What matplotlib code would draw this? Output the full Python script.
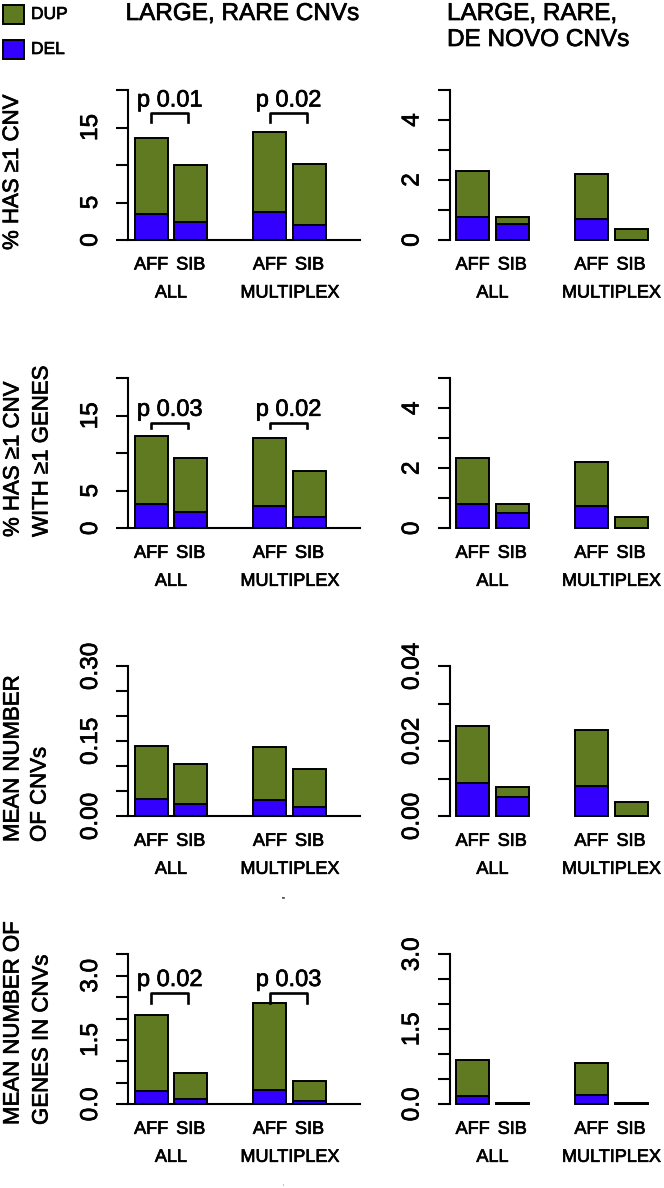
# -*- coding: utf-8 -*-
"""
Stacked bar panels of large, rare CNVs (left) and de novo CNVs (right)
for affected children and siblings, all families and multiplex families.
"""

import numpy as np
import matplotlib.pyplot as plt
import matplotlib.patheffects as pe
from matplotlib.patches import Rectangle

plt.rcParams['font.family'] = ['Liberation Sans', 'DejaVu Sans']

# Bars in order: AFF ALL, SIB ALL, AFF MULTIPLEX, SIB MULTIPLEX
bar_names = ['AFF', 'SIB', 'AFF', 'SIB']
group_names = ['ALL', 'MULTIPLEX']

# Row 1: % has >=1 CNV (totals = DEL + DUP)
rare_any_del = [3.42, 2.36, 3.69, 2.04]
rare_any_tot = [13.56, 10.0, 14.36, 10.13]
novo_any_del = [0.77, 0.52, 0.71, 0.0]
novo_any_tot = [2.31, 0.78, 2.21, 0.36]

# Row 2: % has >=1 CNV with >=1 genes
rare_gene_del = [3.2, 2.22, 2.98, 1.47]
rare_gene_tot = [12.31, 9.42, 12.0, 7.6]
novo_gene_del = [0.81, 0.52, 0.73, 0.0]
novo_gene_tot = [2.34, 0.80, 2.21, 0.37]

# Row 3: mean number of CNVs
rare_mean_del = [0.0355, 0.024, 0.0335, 0.018]
rare_mean_tot = [0.1406, 0.105, 0.1386, 0.0944]
novo_mean_del = [0.00875, 0.0052, 0.0082, 0.0]
novo_mean_tot = [0.024, 0.00786, 0.023, 0.00375]

# Row 4: mean number of genes in CNVs
rare_ngen_del = [0.32, 0.125, 0.33, 0.08]
rare_ngen_tot = [2.09, 0.74, 2.37, 0.55]
novo_ngen_del = [0.173, 0.01, 0.19, 0.0]
novo_ngen_tot = [0.88, 0.03, 0.83, 0.03]

# p values (ALL, MULTIPLEX) for the left panels that have them
p_row1 = ['p 0.01', 'p 0.02']
p_row2 = ['p 0.03', 'p 0.02']
p_row4 = ['p 0.02', 'p 0.03']

DUP_COL = '#607a22'
DEL_COL = '#3300ff'

W, H, DPI = 664, 1188, 100
centers = np.array([0.7, 1.9, 4.3, 5.5])
px_pt = 72.0 / DPI


def draw_panel(ax, del_vals, tot_vals, ymax, ystep, tick_labels,
               baseline=True, pvals=None, pbox=None):
    """
    Draws one stacked bar panel (DEL at the bottom, DUP on top)
    with an R style left axis and the AFF/SIB and group labels.
    """
    del_vals = np.array(del_vals)
    dup_vals = np.array(tot_vals) - del_vals

    ax.bar(centers, del_vals, width=1.0, color=DEL_COL, edgecolor='black',
           linewidth=1.4, clip_on=False, zorder=2)
    ax.bar(centers, dup_vals, bottom=del_vals, width=1.0, color=DUP_COL,
           edgecolor='black', linewidth=1.4, clip_on=False, zorder=2)

    if baseline:
        ax.plot([0, 7.03], [0, 0], color='black', lw=1.5, clip_on=False,
                zorder=3)

    # Axis styling
    ax.set_xlim(0, 6.4)
    ax.set_ylim(0, ymax)
    for s in ['top', 'right', 'bottom']:
        ax.spines[s].set_visible(False)
    ax.spines['left'].set_linewidth(1.5)
    ticks = np.arange(0, ymax + ystep / 2, ystep)
    ax.set_yticks(ticks)
    ax.set_yticklabels(tick_labels, rotation=90, va='center', fontsize=17.5)
    ax.tick_params(axis='y', length=12 * px_pt, width=1.5, pad=14 * px_pt)
    ax.set_xticks([])
    ax.patch.set_visible(False)

    # Bar labels and group labels under the panel
    for c, name in zip(centers, bar_names):
        ax.annotate(name, xy=(c, 0), xycoords=('data', 'axes fraction'),
                    xytext=(0, -25 * px_pt), textcoords='offset points',
                    ha='center', va='center', fontsize=13)
    for g, name in enumerate(group_names):
        gc = (centers[2 * g] + centers[2 * g + 1]) / 2
        ax.annotate(name, xy=(gc, 0), xycoords=('data', 'axes fraction'),
                    xytext=(0, -53 * px_pt), textcoords='offset points',
                    ha='center', va='center', fontsize=13)

    # p value brackets
    if pvals is not None:
        top, leg, base = pbox
        for g, ptxt in enumerate(pvals):
            x1 = centers[2 * g]
            x2 = centers[2 * g + 1] - 0.07
            ax.plot([x1, x1, x2, x2], [leg, top, top, leg], color='black',
                    lw=1.9, clip_on=False, zorder=3)
            ax.text((x1 + x2) / 2, base, ptxt, ha='center', va='baseline',
                    fontsize=17)


fig = plt.figure(figsize=(W / DPI, H / DPI), dpi=DPI)

zeros = [240, 528.3, 816.3, 1104.3]
left_x0, right_x0 = 128, 449.5
ax_w, ax_h = 6.4 * 33, 150


def add_ax(x0, zero):
    return fig.add_axes([x0 / W, 1 - zero / H, ax_w / W, ax_h / H])


lab_pct = ['0', '5', '', '15', '']
lab_small = ['0', '', '2', '', '4', '']

# Row 1
draw_panel(add_ax(left_x0, zeros[0]), rare_any_del, rare_any_tot, 20, 5,
           lab_pct, pvals=p_row1, pbox=(16.9, 15.8, 17.8))
draw_panel(add_ax(right_x0, zeros[0]), novo_any_del, novo_any_tot, 5, 1,
           lab_small, baseline=False)

# Row 2
draw_panel(add_ax(left_x0, zeros[1]), rare_gene_del, rare_gene_tot, 20, 5,
           lab_pct, pvals=p_row2, pbox=(14.0, 13.33, 15.0))
draw_panel(add_ax(right_x0, zeros[1]), novo_gene_del, novo_gene_tot, 5, 1,
           lab_small, baseline=False)

# Row 3
draw_panel(add_ax(left_x0, zeros[2]), rare_mean_del, rare_mean_tot, 0.30,
           0.05, ['0.00', '', '', '0.15', '', '', '0.30'])
draw_panel(add_ax(right_x0, zeros[2]), novo_mean_del, novo_mean_tot, 0.04,
           0.01, ['0.00', '', '0.02', '', '0.04'], baseline=False)

# Row 4
draw_panel(add_ax(left_x0, zeros[3]), rare_ngen_del, rare_ngen_tot, 3.5,
           0.5, ['0.0', '', '', '1.5', '', '', '3.0', ''],
           pvals=p_row4, pbox=(2.59, 2.37, 2.76))
draw_panel(add_ax(right_x0, zeros[3]), novo_ngen_del, novo_ngen_tot, 3.0,
           0.5, ['0.0', '', '', '1.5', '', '', '3.0'], baseline=False)

# Column titles
fig.text(242 / W, 1 - 14 / H, 'LARGE, RARE CNVs', ha='center', va='center',
         fontsize=17.5)
fig.text(447 / W, 1 - 14 / H, 'LARGE, RARE,', ha='left', va='center',
         fontsize=17.5)
fig.text(447 / W, 1 - 40 / H, 'DE NOVO CNVs', ha='left', va='center',
         fontsize=17.5)

# Row labels (rotated, each line placed by hand)
ylabels = [(12.5, 250, '% HAS \u22651 CNV'),
           (13, 537, '% HAS \u22651 CNV'), (42, 537, 'WITH \u22651 GENES'),
           (13, 842, 'MEAN NUMBER'), (40, 842, 'OF CNVs'),
           (13, 1125, 'MEAN NUMBER OF'), (42, 1125, 'GENES IN CNVs')]
for x, yb, txt in ylabels:
    fig.text(x / W, 1 - yb / H, txt, rotation=90, ha='center', va='bottom',
             fontsize=16)

# Legend drawn by hand
for (y0, col, name) in [(5, DUP_COL, 'DUP'), (40, DEL_COL, 'DEL')]:
    fig.add_artist(Rectangle((3 / W, 1 - (y0 + 19) / H), 21 / W, 19 / H,
                             facecolor=col, edgecolor='black', lw=1.4,
                             transform=fig.transFigure))
    fig.text(31 / W, 1 - (y0 + 9.5) / H, name, ha='left', va='center',
             fontsize=12.5)

# Small stray marks seen in the original
fig.text(283 / W, 1 - 898 / H, '-', ha='center', va='center', fontsize=5,
         color='#555555')
fig.text(283 / W, 1 - 1183 / H, '.', ha='center', va='center', fontsize=5,
         color='#555555')

# Slightly heavier strokes on all text, like the original rendering
for t in fig.findobj(match=plt.Text):
    if t.get_text().strip():
        t.set_path_effects([pe.withStroke(linewidth=0.5,
                                          foreground=t.get_color())])

plt.savefig('out.png', dpi=DPI)
